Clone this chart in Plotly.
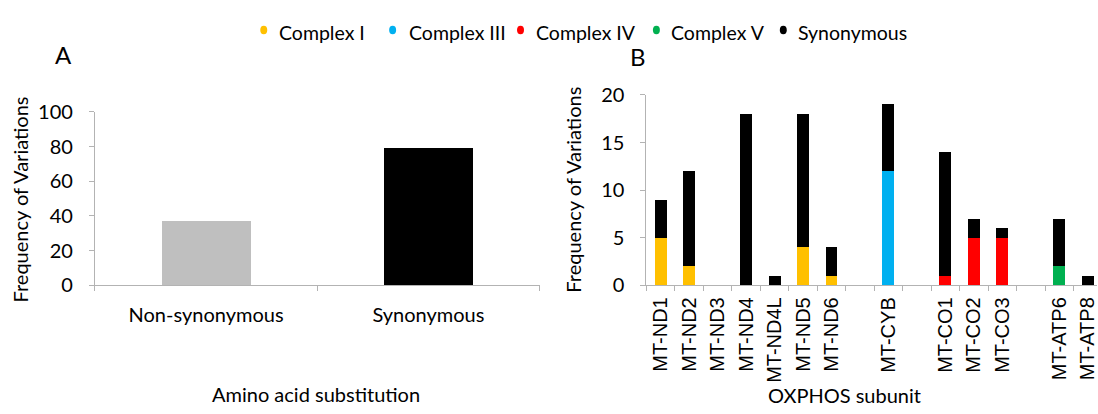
import plotly.graph_objects as go

# ---- Panel A: variations by amino acid substitution type ----
subst_types = ["Non-synonymous", "Synonymous"]
subst_counts = [37, 79]

# ---- Panel B: variations per OXPHOS subunit (blank slots separate complexes) ----
subunits = ["MT-ND1", "MT-ND2", "MT-ND3", "MT-ND4", "MT-ND4L", "MT-ND5", "MT-ND6",
            " ", "MT-CYB", "  ", "MT-CO1", "MT-CO2", "MT-CO3", "   ",
            "MT-ATP6", "MT-ATP8"]
complex_i = [5, 2, 0, 0, 0, 4, 1, None, None, None, None, None, None, None, None, None]
complex_iii = [None, None, None, None, None, None, None, None, 12, None, None, None, None, None, None, None]
complex_iv = [None, None, None, None, None, None, None, None, None, None, 1, 5, 5, None, None, None]
complex_v = [None, None, None, None, None, None, None, None, None, None, None, None, None, None, 2, 0]
synonymous = [4, 10, 0, 18, 1, 14, 3, None, 7, None, 13, 2, 1, None, 5, 1]

series_names = ["Complex I", "Complex III", "Complex IV", "Complex V", "Synonymous"]
series_values = [complex_i, complex_iii, complex_iv, complex_v, synonymous]
series_colors = ["#ffc000", "#00b0f0", "#ff0000", "#00b050", "#000000"]
subst_colors = ["#bfbfbf", "#000000"]

W, H = 1098, 414
SANS = "Lato, 'Open Sans', sans-serif"
ARIAL = "Arial, 'Liberation Sans', sans-serif"
AXIS_GRAY = "#b3b3b3"


def px(x):
    return x / W


def py(y):
    return 1 - y / H


fig = go.Figure()

fig.add_trace(go.Bar(x=subst_types, y=subst_counts, marker=dict(color=subst_colors, line_width=0),
                     width=0.4, xaxis="x", yaxis="y", showlegend=False))

for name, vals, col in zip(series_names, series_values, series_colors):
    fig.add_trace(go.Bar(x=subunits, y=vals, name=name, marker=dict(color=col, line_width=0),
                         width=0.42, xaxis="x2", yaxis="y2", showlegend=False))

common_x = dict(type="category", showline=True, linecolor=AXIS_GRAY, linewidth=1,
                ticks="outside", tickson="boundaries", ticklen=5, tickcolor=AXIS_GRAY,
                showgrid=False, zeroline=False, fixedrange=True)
common_y = dict(showline=True, linecolor=AXIS_GRAY, linewidth=1, ticks="outside",
                ticklen=5, tickcolor=AXIS_GRAY, showgrid=False, zeroline=False,
                fixedrange=True, tickfont=dict(family=SANS, size=20, color="#000000"),
                ticklabelstandoff=12)

fig.update_layout(
    width=W, height=H, margin=dict(l=0, r=0, t=0, b=0),
    paper_bgcolor="white", plot_bgcolor="white", barmode="stack",
    xaxis=dict(domain=[px(95), px(540)], anchor="y",
               tickfont=dict(family=SANS, size=20, color="#000000"),
               ticklabelstandoff=12, **common_x),
    yaxis=dict(domain=[py(289), py(105)], anchor="x", range=[0, 100], dtick=20, **common_y),
    xaxis2=dict(domain=[px(647), 1], anchor="y2", range=[-0.5, -0.5 + 451 / 28.5],
                tickangle=-90, ticklabelstandoff=3,
                tickfont=dict(family=ARIAL, size=20, color="#000000"),
                **common_x),
    yaxis2=dict(domain=[py(289), py(87)], anchor="x2", range=[0, 20], dtick=5, **common_y),
)

annotations = [
    dict(text="A", x=px(64), y=py(44), font=dict(size=24)),
    dict(text="B", x=px(639), y=py(46), font=dict(size=24)),
    dict(text="Amino acid substitution", x=px(316), y=py(404), font=dict(size=20)),
    dict(text="OXPHOS subunit", x=px(845), y=py(405), font=dict(size=20)),
    dict(text="Frequency of Variations", x=px(20), y=py(198), textangle=-90, font=dict(size=20)),
    dict(text="Frequency of Variations", x=px(574), y=py(187), textangle=-90, font=dict(size=20)),
]
for a in annotations:
    a.update(xref="paper", yref="paper", showarrow=False, xanchor="center", yanchor="middle")
    a["font"].update(family=SANS, color="#000000")

# Legend row: small raised dots followed by the series names
legend_text_x = [277, 407, 534, 670, 797]
legend_dot_x = [264, 393, 521, 657, 784]
shapes = []
for name, col, tx, dx in zip(series_names, series_colors, legend_text_x, legend_dot_x):
    annotations.append(dict(text=name, x=px(tx), y=py(21), xref="paper", yref="paper",
                            showarrow=False, xanchor="left", yanchor="middle",
                            font=dict(family=SANS, size=19.5, color="#000000")))
    shapes.append(dict(type="circle", xref="paper", yref="paper",
                       x0=px(dx - 3.5), x1=px(dx + 3.5), y0=py(22.5), y1=py(13.5),
                       fillcolor=col, line_width=0))

fig.update_layout(annotations=annotations, shapes=shapes)

fig.write_html("out.html")
